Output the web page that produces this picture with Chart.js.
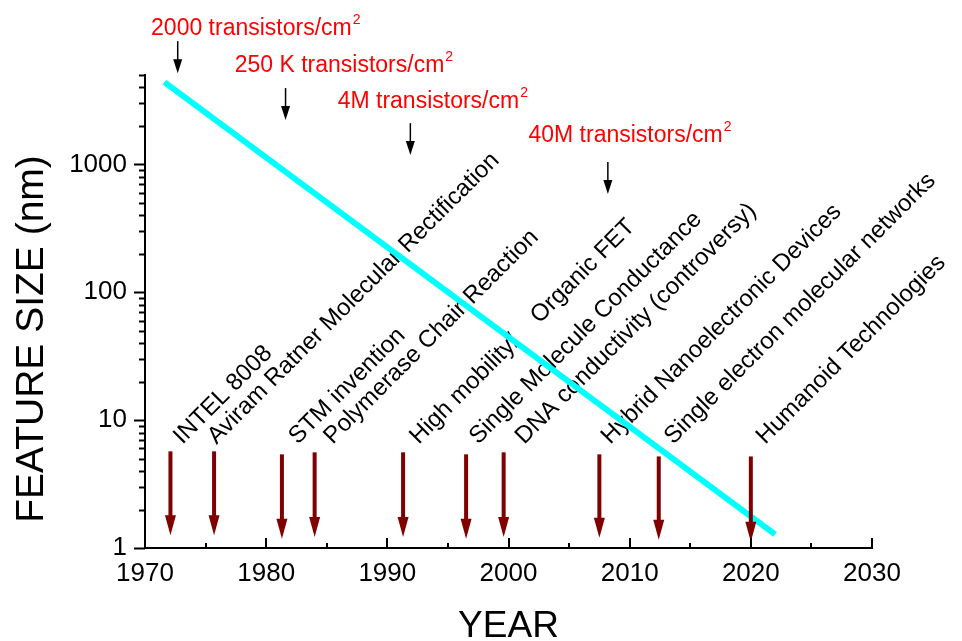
<!DOCTYPE html>
<html>
<head>
<meta charset="utf-8">
<script src="https://cdn.jsdelivr.net/npm/chart.js@4/dist/chart.umd.min.js"></script>
<style>
  html, body { margin: 0; padding: 0; background: #fff; }
  canvas { display: block; }
</style>
</head>
<body>
<canvas id="featureChart" width="962" height="641"></canvas>
<script>
// Feature size trend line (year, nm)
const lineYears = [1971.6, 2022.0];
const lineSizes = [4400, 1.28];

// Milestones with the dark red arrows
const eventLabels = [
  'INTEL 8008',
  'Aviram Ratner Molecular Rectification',
  'STM invention',
  'Polymerase Chair Reaction',
  'High mobility/    Organic FET',
  'Single Molecule Conductance',
  'DNA conductivity (controversy)',
  'Hybrid Nanoelectronic Devices',
  'Single electron molecular networks',
  'Humanoid Technologies'
];
const eventYears = [1972.1, 1975.7, 1981.3, 1984.0, 1991.3, 1996.5, 1999.6, 2007.5, 2012.4, 2020.0];
const eventFrom = [5.7, 5.7, 5.4, 5.6, 5.6, 5.4, 5.6, 5.4, 5.2, 5.2];
const eventTo = [1.26, 1.26, 1.18, 1.22, 1.22, 1.18, 1.22, 1.2, 1.16, 1.12];
const labelYears = [1973.1, 1975.9, 1982.6, 1985.5, 1992.6, 1997.5, 2001.3, 2008.4, 2013.6, 2021.2];

// Transistor density notes at the top
const densityLabels = ['2000 transistors/cm', '250 K transistors/cm', '4M transistors/cm', '40M transistors/cm'];
const densityYears = [1972.7, 1981.6, 1991.9, 2008.2];
const densityFrom = [9200, 3950, 2100, 1042];
const densityTo = [5170, 2220, 1183, 586];
const densityTextYears = [1970.5, 1977.4, 1985.9, 2001.65];
const densityTextSizes = [10260, 5270, 2754, 1494];

// Axis ticks
const yTicks = [1, 10, 100, 1000];
const xTicks = [1970, 1980, 1990, 2000, 2010, 2020, 2030];
const xMinorTicks = [1975, 1985, 1995, 2005, 2015, 2025];

const FONT = "'Liberation Sans', Arial, Helvetica, sans-serif";
const LABEL_SIZE = 6.4;

function yMinorTicks() {
  const out = [];
  yTicks.forEach(d => {
    for (let m = 2; m <= 9; m++) {
      if (m * d <= 5000) out.push(m * d);
    }
  });
  return out;
}

function drawArrow(ctx, x, y1, y2, shaft, headW, headH, color) {
  ctx.save();
  ctx.strokeStyle = color;
  ctx.fillStyle = color;
  ctx.lineWidth = shaft;
  ctx.beginPath();
  ctx.moveTo(x, y1);
  ctx.lineTo(x, y2 - headH + 1);
  ctx.stroke();
  ctx.beginPath();
  ctx.moveTo(x - headW / 2, y2 - headH);
  ctx.lineTo(x + headW / 2, y2 - headH);
  ctx.lineTo(x, y2);
  ctx.closePath();
  ctx.fill();
  ctx.restore();
}

const decorPlugin = {
  id: 'decor',
  beforeDatasetsDraw(chart) {
    const ctx = chart.ctx;
    const xs = chart.scales.x;
    const ys = chart.scales.y;

    // slanted milestone labels (under the trend line)
    ctx.save();
    ctx.fillStyle = '#000';
    ctx.font = '24px ' + FONT;
    ctx.textAlign = 'left';
    ctx.textBaseline = 'alphabetic';
    eventLabels.forEach((txt, i) => {
      ctx.save();
      ctx.translate(xs.getPixelForValue(labelYears[i]), ys.getPixelForValue(LABEL_SIZE));
      ctx.rotate(-Math.PI / 4);
      ctx.fillText(txt, 0, 0);
      ctx.restore();
    });
    ctx.restore();
  },
  afterDatasetsDraw(chart) {
    const ctx = chart.ctx;
    const xs = chart.scales.x;
    const ys = chart.scales.y;
    const area = chart.chartArea;

    // milestone arrows
    eventYears.forEach((yr, i) => {
      drawArrow(ctx, xs.getPixelForValue(yr), ys.getPixelForValue(eventFrom[i]),
        ys.getPixelForValue(eventTo[i]), 4, 11, 20, '#800000');
    });

    // density notes + small black arrows
    densityLabels.forEach((txt, i) => {
      drawArrow(ctx, xs.getPixelForValue(densityYears[i]), ys.getPixelForValue(densityFrom[i]),
        ys.getPixelForValue(densityTo[i]), 1.5, 9, 14, '#000');
      const tx = xs.getPixelForValue(densityTextYears[i]);
      const ty = ys.getPixelForValue(densityTextSizes[i]);
      ctx.save();
      ctx.fillStyle = '#ff0000';
      ctx.textAlign = 'left';
      ctx.textBaseline = 'alphabetic';
      ctx.font = '23px ' + FONT;
      ctx.fillText(txt, tx, ty);
      const w = ctx.measureText(txt).width;
      ctx.font = '14px ' + FONT;
      ctx.fillText('2', tx + w + 1, ty - 11);
      ctx.restore();
    });

    // tick marks: y outside, x inside
    ctx.save();
    ctx.strokeStyle = '#000';
    ctx.lineWidth = 2;
    ctx.beginPath();
    yTicks.forEach(v => {
      const p = Math.round(ys.getPixelForValue(v)) + 0.5;
      ctx.moveTo(area.left - 11, p);
      ctx.lineTo(area.left, p);
    });
    yMinorTicks().forEach(v => {
      const p = Math.round(ys.getPixelForValue(v)) + 0.5;
      ctx.moveTo(area.left - 6, p);
      ctx.lineTo(area.left, p);
    });
    xTicks.forEach(v => {
      const p = Math.round(xs.getPixelForValue(v));
      ctx.moveTo(p, area.bottom);
      ctx.lineTo(p, area.bottom - 10);
    });
    xMinorTicks.forEach(v => {
      const p = Math.round(xs.getPixelForValue(v));
      ctx.moveTo(p, area.bottom);
      ctx.lineTo(p, area.bottom - 5);
    });
    ctx.stroke();
    ctx.restore();

    // axis titles
    ctx.save();
    ctx.fillStyle = '#000';
    ctx.textAlign = 'center';
    ctx.textBaseline = 'alphabetic';
    ctx.font = '37px ' + FONT;
    ctx.fillText('YEAR', (area.left + area.right) / 2, 637);
    ctx.translate(43, 339);
    ctx.rotate(-Math.PI / 2);
    ctx.font = '39px ' + FONT;
    ctx.fillText('FEATURE SIZE (nm)', 0, 0);
    ctx.restore();
  }
};

const ctx = document.getElementById('featureChart').getContext('2d');
const featureChart = new Chart(ctx, {
  type: 'scatter',
  data: {
    datasets: [{
      label: 'Feature size',
      data: lineYears.map((yr, i) => ({ x: yr, y: lineSizes[i] })),
      showLine: true,
      borderColor: '#00ffff',
      borderWidth: 6,
      pointRadius: 0,
      fill: false
    }]
  },
  options: {
    responsive: false,
    animation: false,
    devicePixelRatio: 1,
    layout: { padding: { top: 75, right: 90, left: 0, bottom: 0 } },
    plugins: { legend: { display: false }, tooltip: { enabled: false } },
    scales: {
      x: {
        type: 'linear',
        min: 1970,
        max: 2030,
        grid: { display: false, drawTicks: false },
        border: { display: true, color: '#000', width: 2 },
        ticks: {
          stepSize: 10,
          padding: 10,
          color: '#000',
          font: { family: FONT, size: 26 },
          callback: v => String(v)
        },
        afterFit: s => { s.height = 93; }
      },
      y: {
        type: 'logarithmic',
        min: 1,
        max: 5000,
        grid: { display: false, drawTicks: false },
        border: { display: true, color: '#000', width: 2 },
        ticks: {
          padding: 18,
          color: '#000',
          font: { family: FONT, size: 26 },
          callback: v => String(v)
        },
        afterBuildTicks: s => { s.ticks = yTicks.map(v => ({ value: v })); },
        afterFit: s => { s.width = 145; }
      }
    }
  },
  plugins: [decorPlugin]
});
</script>
</body>
</html>
